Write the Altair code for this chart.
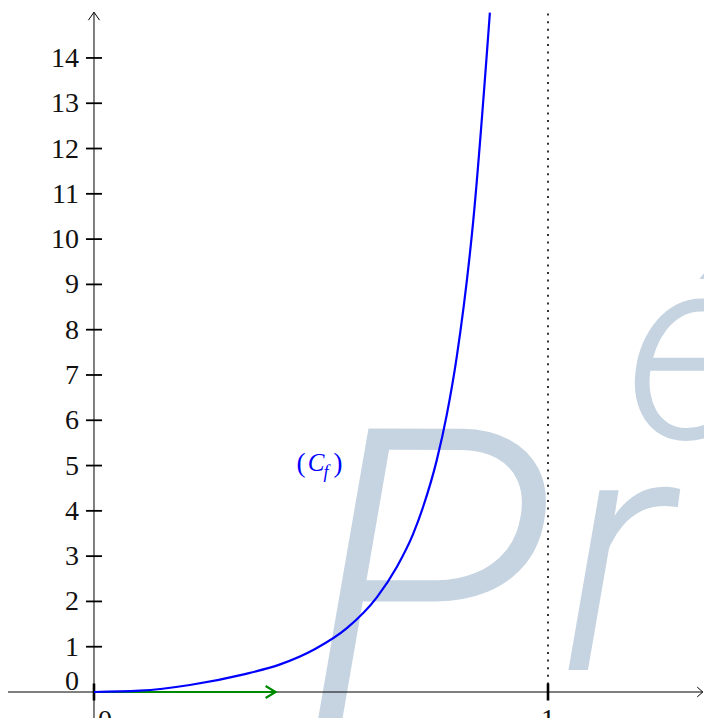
import altair as alt
import pandas as pd

# ---- data ----
curve_x = [0, 0.101, 0.211, 0.33, 0.41, 0.487, 0.557, 0.623, 0.667, 0.703,
           0.725, 0.755, 0.777, 0.799, 0.8355, 0.872]
curve_y = [0, 0.029, 0.155, 0.39, 0.61, 0.95, 1.41, 2.09, 2.76, 3.49,
           4.09, 5.12, 6.12, 7.40, 10.42, 15.0]
ytick_values = list(range(1, 15))
ylabel_values = list(range(1, 15))
xtick_values = [0, 1]
asymptote_x = 1
asymptote_top = 15.0
vector_x = [0, 0.4]
vector_y = [0, 0]
curve_label = {"x": 0.4868, "y": 5.034}
watermark_letters = ["P", "r", "é"]
watermark_x = [0.73, 1.15, 1.315]
watermark_y = [-0.62, 0.486, 5.6]

X_MIN, X_MAX = -0.1894, 1.3436
Y_MIN, Y_MAX = -0.574, 15.103
X_AXIS_END = 1.341
Y_AXIS_END = 15.01

xs = alt.Scale(domain=[X_MIN, X_MAX], nice=False, zero=False, padding=0)
ys = alt.Scale(domain=[Y_MIN, Y_MAX], nice=False, zero=False, padding=0)

def X(field="x"):
    return alt.X(f"{field}:Q", scale=xs, axis=None)

def Y(field="y"):
    return alt.Y(f"{field}:Q", scale=ys, axis=None)

FONT = "Liberation Serif"
WM = "#c6d4e1"

curve_df = pd.DataFrame({"x": curve_x, "y": curve_y})
yt_df = pd.DataFrame({"x": [0] * len(ytick_values), "y": ytick_values})
yl_df = pd.DataFrame({"x": [0] * len(ylabel_values), "y": ylabel_values,
                      "t": [str(v) for v in ylabel_values]})
xt_df = pd.DataFrame({"x": xtick_values, "y": [0] * len(xtick_values)})

# watermark
wm_layers = []
wm_sizes = [410, 340, 260]
for letter, wx, wy, sz in zip(watermark_letters, watermark_x, watermark_y, wm_sizes):
    wm_layers.append(
        alt.Chart(pd.DataFrame({"x": [wx], "y": [wy], "t": [letter]}))
        .mark_text(font="Roboto", fontSize=sz, fontStyle="italic", fontWeight=300,
                   color=WM, align="center", baseline="alphabetic")
        .encode(x=X(), y=Y(), text="t:N")
    )

# axes lines
axis_df = pd.DataFrame({"x0": [X_MIN, 0], "x1": [X_AXIS_END, 0],
                        "y0": [0, Y_MIN], "y1": [0, Y_AXIS_END]})
axes = alt.Chart(axis_df).mark_rule(color="black", strokeWidth=1).encode(
    x=X("x0"), x2="x1:Q", y=Y("y0"), y2="y1:Q")

xarrow = alt.Chart(pd.DataFrame({"x": [X_AXIS_END], "y": [0]})).mark_point(
    shape="M-0.8,-0.7L0,0L-0.8,0.7", size=196, filled=False, color="black",
    strokeWidth=1, opacity=1).encode(x=X(), y=Y())
yarrow = alt.Chart(pd.DataFrame({"x": [0], "y": [Y_AXIS_END]})).mark_point(
    shape="M-0.7,1L0,0L0.7,1", size=256, filled=False, color="black",
    strokeWidth=1, opacity=1).encode(x=X(), y=Y())

yticks = alt.Chart(yt_df).mark_tick(orient="horizontal", size=16, thickness=1.8,
                                    color="black", opacity=1).encode(x=X(), y=Y())
xticks = alt.Chart(xt_df).mark_tick(orient="vertical", size=17, thickness=2.6,
                                    color="black", opacity=1).encode(x=X(), y=Y())

ylabels = alt.Chart(yl_df).mark_text(font=FONT, fontSize=28, align="right",
                                     baseline="middle", dx=-15, dy=1,
                                     color="#111").encode(x=X(), y=Y(), text="t:N")
ylabel0 = alt.Chart(pd.DataFrame({"x": [0], "y": [0], "t": ["0"]})).mark_text(
    font=FONT, fontSize=28, align="right", baseline="middle", dx=-15, dy=-10,
    color="#111").encode(x=X(), y=Y(), text="t:N")
xlabel0 = alt.Chart(pd.DataFrame({"x": [0], "y": [0], "t": ["0"]})).mark_text(
    font=FONT, fontSize=28, align="center", baseline="top", dx=11, dy=15,
    color="#111").encode(x=X(), y=Y(), text="t:N")
xlabel1 = alt.Chart(pd.DataFrame({"x": [1], "y": [0], "t": ["1"]})).mark_text(
    font=FONT, fontSize=28, align="center", baseline="top", dx=0, dy=14,
    color="#111").encode(x=X(), y=Y(), text="t:N")

asym = alt.Chart(pd.DataFrame({"x": [asymptote_x], "y0": [0], "y1": [asymptote_top]})
                 ).mark_rule(color="black", strokeWidth=1.6, strokeDash=[2, 5.6]
                 ).encode(x=X(), y=Y("y0"), y2="y1:Q")

vec_df = pd.DataFrame({"x0": [vector_x[0]], "x1": [vector_x[1]],
                       "y0": [vector_y[0]], "y1": [vector_y[1]]})
vector = alt.Chart(vec_df).mark_rule(color="#008a00", strokeWidth=2.2).encode(
    x=X("x0"), x2="x1:Q", y=Y("y0"), y2="y1:Q")
vec_head = alt.Chart(pd.DataFrame({"x": [vector_x[1]], "y": [vector_y[1]]})).mark_point(
    shape="M-1,-0.6L0,0L-1,0.6", size=400, filled=False, color="#008a00",
    strokeWidth=2.2, opacity=1).encode(x=X(), y=Y())

curve = alt.Chart(curve_df).mark_line(color="#0000ff", strokeWidth=2.2,
                                      interpolate="monotone").encode(
    x=X(), y=Y(), order="x:Q")

lab_df = pd.DataFrame({"x": [curve_label["x"]], "y": [curve_label["y"]]})
lab_parts = [
    ("(", 27, "normal", -14, 0),
    ("C", 25, "italic", 1, -1),
    ("f", 18, "italic", 11, 9),
    (")", 27, "normal", 23, 0),
]
lab_layers = []
for t, fs, st, dx, dy in lab_parts:
    lab_layers.append(
        alt.Chart(lab_df.assign(t=t)).mark_text(
            font=FONT, fontSize=fs, fontStyle=st, color="#0000ff",
            align="center", baseline="middle", dx=dx, dy=dy)
        .encode(x=X(), y=Y(), text="t:N"))

chart = alt.layer(
    *wm_layers, axes, xarrow, yarrow, asym, yticks, xticks,
    ylabels, ylabel0, xlabel0, xlabel1, vector, vec_head, curve, *lab_layers
).properties(
    width=696, height=710, padding=0, autosize=alt.AutoSizeParams(type="none")
).configure_view(stroke=None).configure_scale(continuousPadding=0)

chart.save("out.html", embed_options={"renderer": "svg", "actions": False})
